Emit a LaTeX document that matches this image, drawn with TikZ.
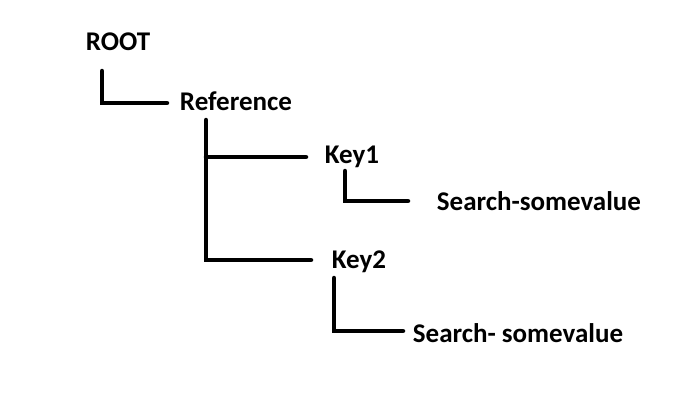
\documentclass[tikz,border=0pt]{standalone}
\usepackage{fontspec}
\setmainfont{Carlito}
\usetikzlibrary{positioning}

\begin{document}
\begin{tikzpicture}[x=1pt, y=-1pt, line width=4.5pt, line cap=round,
    lbl/.style={font=\bfseries\fontsize{27}{30}\selectfont, inner sep=0pt}]
  \useasboundingbox (0,0) rectangle (675,405);

  \node[lbl] (ROOT) at (118,42)  {ROOT};
  \node[lbl] (Ref)  at (236,101) {Reference};
  \node[lbl] (K1)   at (352,157) {Key1};
  \node[lbl] (S1)   at (539,201) {Search-somevalue};
  \node[lbl] (K2)   at (359,262) {Key2};
  \node[lbl] (S2)   at (518,333) {Search- somevalue};

  \coordinate (r0) at (102,71);  \coordinate (r1) at (167,103);
  \coordinate (f0) at (206,120); \coordinate (f1) at (306,157);
  \coordinate (f2) at (311,260);
  \coordinate (a0) at (345,171); \coordinate (a1) at (408,201);
  \coordinate (b0) at (334,278); \coordinate (b1) at (403,331);

  \draw (r0) |- (r1);
  \draw (f0) |- (f2);
  \draw (f0 |- f1) -- (f1);
  \draw (a0) |- (a1);
  \draw (b0) |- (b1);
\end{tikzpicture}
\end{document}
